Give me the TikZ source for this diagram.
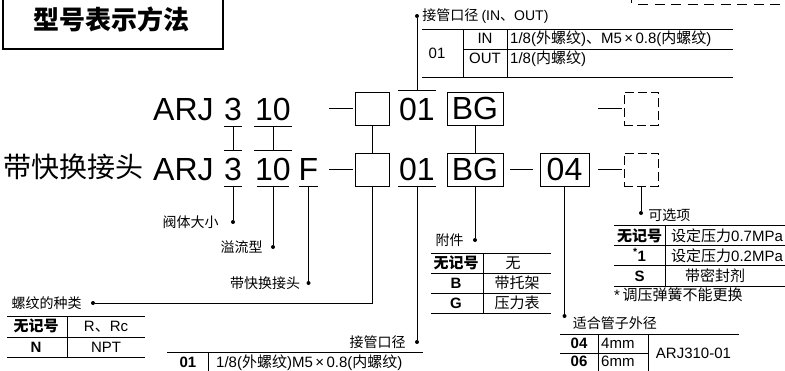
\documentclass[tikz,border=0pt]{standalone}
\usepackage{fontspec}
\setmainfont{Liberation Sans}
\newfontfamily\cjk{Noto Sans CJK SC}
\usetikzlibrary{positioning}
\newcommand{\zh}[1]{{\cjk #1}}
\newcommand{\lt}[1]{{\rmfamily #1}}

\tikzset{
  big/.style={font=\fontsize{32}{32}\selectfont, inner sep=0, anchor=base},
  digit/.style={big, text height=29pt, text depth=6pt, minimum width=#1},
  codebox/.style={draw, line width=0.9pt, minimum width=34pt, minimum height=33pt,
    inner sep=0, font=\fontsize{32}{32}\selectfont},
  optbox/.style={codebox, dash pattern=on 9pt off 4pt},
  lbl/.style={font=\cjk\fontsize{14}{14}\selectfont, inner sep=0},
  cell/.style={font=\fontsize{15}{15}\selectfont, inner sep=0, anchor=base},
  bcell/.style={cell, font=\bfseries\fontsize{15}{15}\selectfont},
  pin/.style={circle, fill, inner sep=0, minimum size=4pt},
  lead/.style={line width=1pt},
  rule/.style={line width=0.9pt},
}

\begin{document}
\begin{tikzpicture}[x=1pt, y=-1pt]
\useasboundingbox (0,0) rectangle (785,370);
%
% title
\node[draw, line width=1.2pt, minimum width=220pt, minimum height=54pt, inner sep=0] (titlebox) at (113,22) {};
\node[font=\cjk\bfseries\fontsize{26}{26}\selectfont, inner sep=0] (title) at (112,19) {型号表示方法};
% dashed frame cut off at the top
\draw[line width=0.8pt] (631,-1) -- (631,3);
\draw[line width=0.8pt, dash pattern=on 10pt off 6.5pt] (638,4) -- (790,4);
%
% first row
\node[big, anchor=base west] (aARJ) at (153,120) {ARJ};
\node[digit=18pt] (a3) at (233,120) {3};
\node[digit=38pt] (a10) at (273,120) {10};
\node[codebox] (aBox) at (372,108.5) {};
\node[digit=38pt] (a01) at (417,120) {01};
\node[codebox, minimum width=56pt] (aBG) at (475,108.5) {BG};
\node[optbox] (aOpt) at (641,108.5) {};
%
% second row
\node[font=\cjk\fontsize{28}{28}\selectfont, inner sep=0, anchor=base west] (quick) at (3,177) {带快换接头};
\node[big, anchor=base west] (bARJ) at (153,180) {ARJ};
\node[digit=18pt] (b3) at (233,180) {3};
\node[digit=38pt] (b10) at (273,180) {10};
\node[digit=19pt] (bF) at (308.5,180) {F};
\node[codebox] (bBox) at (372,169.5) {};
\node[digit=38pt] (b01) at (417,180) {01};
\node[codebox, minimum width=56pt] (bBG) at (475,169.5) {BG};
\node[codebox, minimum width=49pt] (b04) at (564.5,169.5) {04};
\node[optbox] (bOpt) at (641,169.5) {};
%
% under- and overlines
\draw[lead] (a3.south west) -- (a3.south east);
\draw[lead] (a10.south west) -- (a10.south east);
\draw[lead] (a01.north west) -- (a01.north east);
\draw[lead] (b3.north west) -- (b3.north east);
\draw[lead] (b10.north west) -- (b10.north east);
\draw[lead] (b3.south west) -- (b3.south east);
\draw[lead] ([xshift=3pt]b10.south west) -- ([xshift=-3pt]b10.south east);
\draw[lead] (bF.south west) -- (bF.south east);
\draw[lead] (b01.south west) -- (b01.south east);
%
% dashes
\draw[lead] ([xshift=-2pt]aBox.west) -- ++(-24,0);
\draw[lead] ([xshift=-2pt]aOpt.west) -- ++(-24,0);
\draw[lead] ([xshift=-2pt]bBox.west) -- ++(-24,0);
\draw[lead, shorten <=7pt, shorten >=7pt] (bBG.east) -- (b04.west);
\draw[lead, shorten <=9pt, shorten >=2pt] (b04.east) -- (bOpt.west);
%
% between the rows
\draw[lead] (a3.south) -- (b3.north);
\draw[lead] (a10.south) -- (b10.north);
\draw[lead] (aBox.south) -- (bBox.north);
\draw[lead] (aBG.south) -- (bBG.north);
%
% pins and labels
\node[pin] (dIO) at (417,16) {};
\node[pin] (d3) at (233,222) {};
\node[pin] (d10) at (273,247) {};
\node[pin] (dF) at (308.5,283) {};
\node[pin] (dThr) at (93,303) {};
\node[pin] (d01) at (417,342) {};
\node[pin] (dBG) at (475,240) {};
\node[pin] (d04) at (564.5,316) {};
\node[pin] (dOpt) at (641,213) {};
\draw[lead] (a01.north) -- (dIO);
\draw[lead] (b3.south) -- (d3);
\draw[lead] (b10.south) -- (d10);
\draw[lead, line width=1.5pt] (bF.south) -- (dF);
\draw[lead] (bBox.south) |- (dThr);
\draw[lead] (b01.south) -- (d01);
\draw[lead] (bBG.south) -- (dBG);
\draw[lead] (b04.south) -- (d04);
\draw[lead] (bOpt.south) -- (dOpt);
\node[lbl, right=3pt of dIO] (lIO) {接管口径 \lt{(IN}、\lt{OUT)}};
\node[lbl, left=12pt of d3] (l3) {阀体大小};
\node[lbl, left=8pt of d10] (l10) {溢流型};
\node[lbl, left=6pt of dF] (lF) {带快换接头};
\node[lbl, left=9pt of dThr] (lThr) {螺纹的种类};
\node[lbl, left=9pt of d01] (l01) {接管口径};
\node[lbl, left=9pt of dBG] (lBG) {附件};
\node[lbl, right=6pt of d04, yshift=-7pt] (l04) {适合管子外径};
\node[lbl, right=5pt of dOpt, yshift=-2pt] (lOpt) {可选项};
%
% table: IN / OUT
\draw[rule] (422,29) -- (733,29);
\draw[rule] (463,49) -- (733,49);
\draw[rule] (422,77) -- (733,77);
\draw[rule] (463,29) -- (463,77);
\draw[rule] (507,29) -- (507,77);
\node[cell] (io01) at (437,58.5) {01};
\node[cell] (ioIN) at (485,43.5) {IN};
\node[cell] (ioOUT) at (485,63) {OUT};
\node[cell, anchor=base west] (ioA) at (510,43.5) {1/8(\zh{外螺纹})\zh{、}M5\,×\,0.8(\zh{内螺纹})};
\node[cell, anchor=base west] (ioB) at (510,63) {1/8(\zh{内螺纹})};
%
% table: thread
\draw[rule] (7,316) -- (145,316);
\draw[rule] (7,337) -- (145,337);
\draw[rule] (7,357) -- (145,357);
\draw[rule] (67,316) -- (67,357);
\node[bcell] (thA) at (36,331.5) {\zh{无记号}};
\node[cell] (thB) at (106,331.5) {R\zh{、}Rc};
\node[bcell] (thC) at (36,352.5) {N};
\node[cell] (thD) at (106,352.5) {NPT};
%
% table: port size
\draw[rule] (167,352) -- (423,352);
\draw[rule] (208,352) -- (208,372);
\node[bcell] (psA) at (188,367) {01};
\node[cell, anchor=base west] (psB) at (216,367) {1/8(\zh{外螺纹})M5\,×\,0.8(\zh{内螺纹})};
%
% table: accessory
\draw[rule] (431,253) -- (551,253);
\draw[rule] (431,273) -- (551,273);
\draw[rule] (431,293) -- (551,293);
\draw[rule] (431,313) -- (551,313);
\draw[rule] (483,253) -- (483,313);
\node[bcell] (acA) at (456,268.5) {\zh{无记号}};
\node[cell] (acB) at (513,268.5) {\zh{无}};
\node[bcell] (acC) at (456,288.5) {B};
\node[cell] (acD) at (517,288.5) {\zh{带托架}};
\node[bcell] (acE) at (456,308.5) {G};
\node[cell] (acF) at (517,308.5) {\zh{压力表}};
%
% table: options
\draw[rule] (614,225) -- (790,225);
\draw[rule] (614,245) -- (790,245);
\draw[rule] (614,265) -- (790,265);
\draw[rule] (614,286) -- (790,286);
\draw[rule] (665,225) -- (665,286);
\node[bcell] (opA) at (639.5,241.5) {\zh{无记号}};
\node[cell, anchor=base west] (opB) at (671,241.5) {\zh{设定压力}0.7MPa};
\node[bcell] (opC) at (639.5,261) {\textsuperscript{*}1};
\node[cell, anchor=base west] (opD) at (671,261) {\zh{设定压力}0.2MPa};
\node[bcell] (opE) at (639.5,281.5) {S};
\node[cell] (opF) at (715,281.5) {\zh{带密封剂}};
\node[cell, anchor=base west] (opN) at (614,300.5) {*\,\zh{调压弹簧不能更换}};
%
% table: tube size
\draw[rule] (560,334) -- (739,334);
\draw[rule] (560,353) -- (648,353);
\draw[rule] (598,334) -- (598,372);
\draw[rule] (648,334) -- (648,372);
\node[bcell] (tuA) at (579,348) {04};
\node[cell, anchor=base west] (tuB) at (601,348) {4mm};
\node[bcell] (tuC) at (579,366.5) {06};
\node[cell, anchor=base west] (tuD) at (601,366.5) {6mm};
\node[cell] (tuE) at (693.5,358) {ARJ310-01};
\end{tikzpicture}
\end{document}
